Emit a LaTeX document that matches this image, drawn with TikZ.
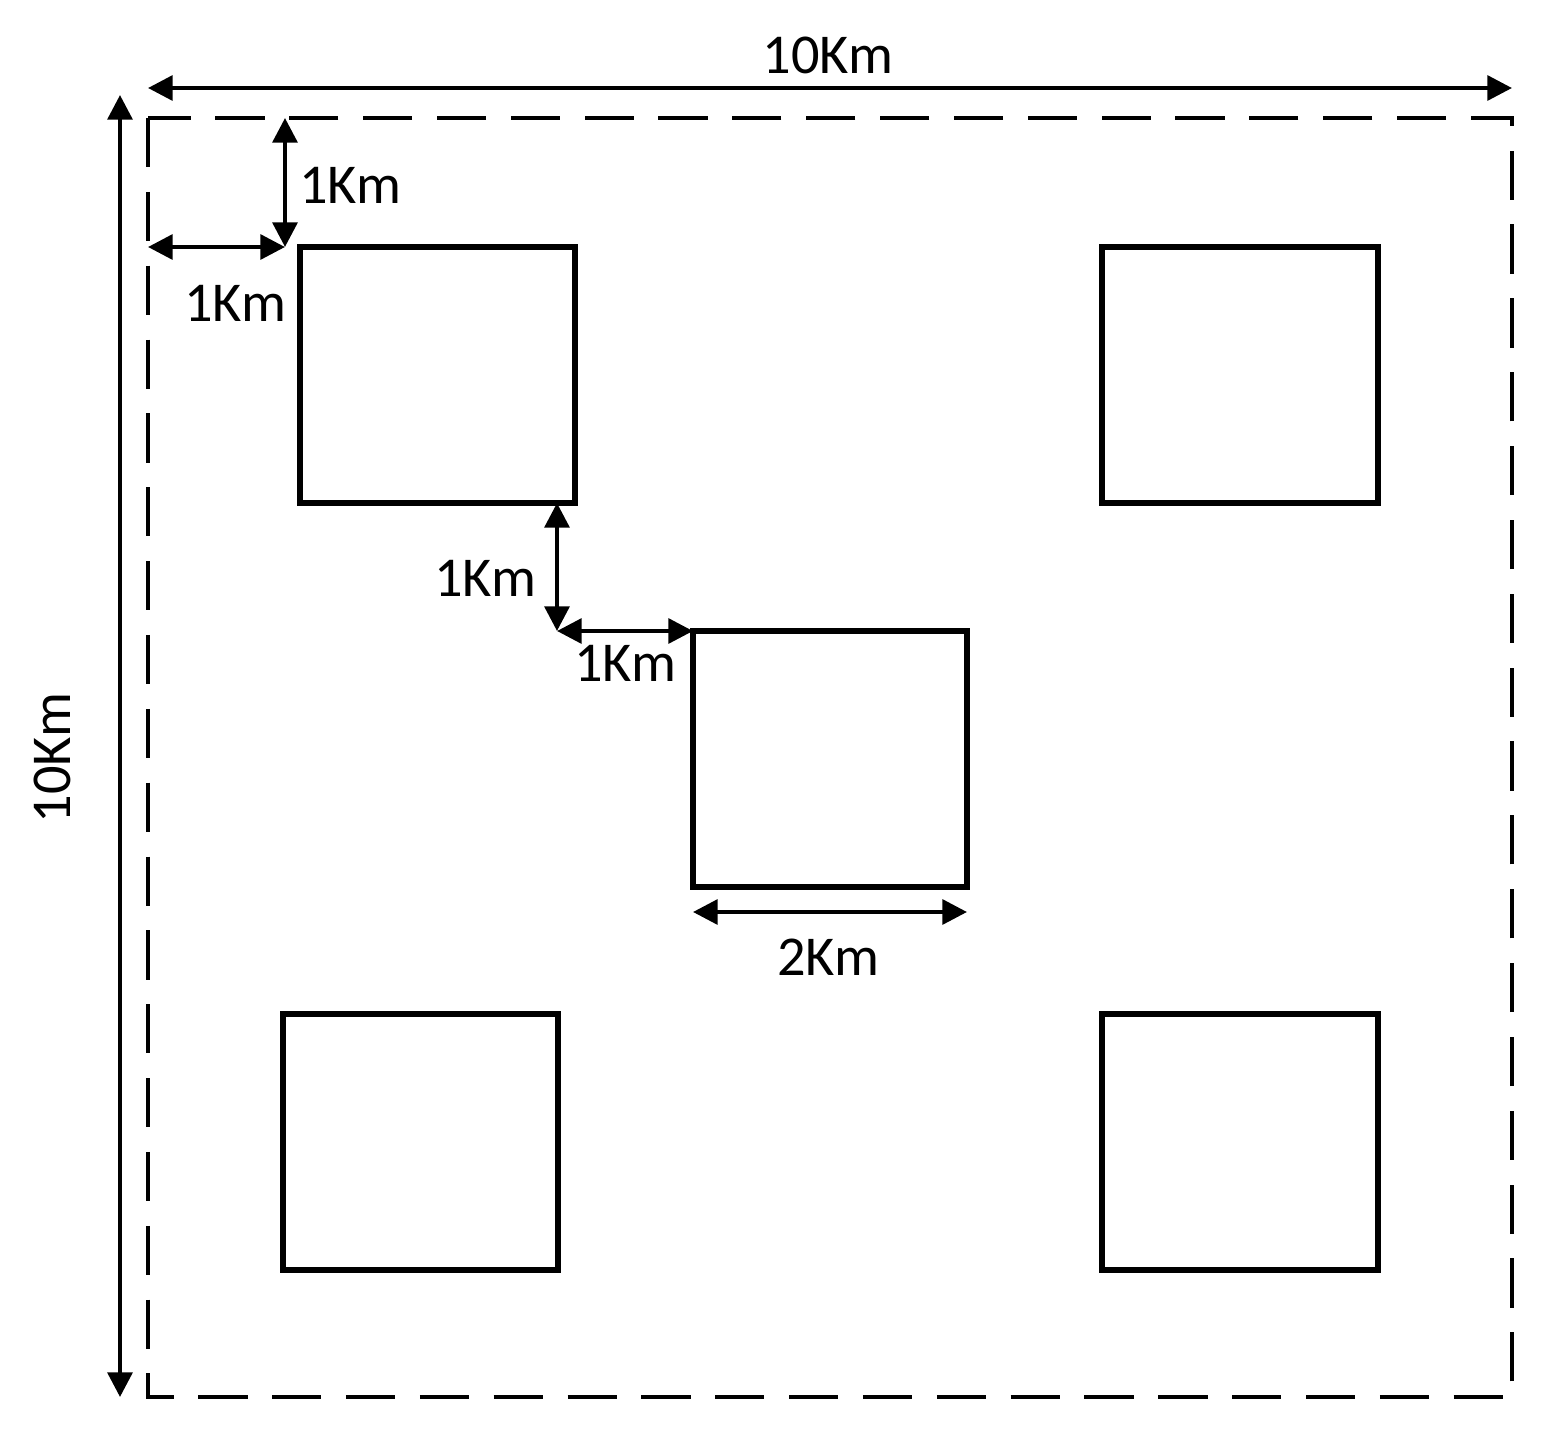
\documentclass[tikz,border=0pt]{standalone}
\usepackage{fontspec}
\setmainfont{Carlito}
\usetikzlibrary{arrows.meta}
\begin{document}
\begin{tikzpicture}[x=0.01cm,y=-0.01cm,
  blk/.style={draw,line width=1.5pt},
  dim/.style={line width=1.2pt,{Triangle[length=7pt,width=7pt]}-{Triangle[length=7pt,width=7pt]}},
  lbl/.style={font=\fontsize{16}{18}\selectfont,inner sep=0pt}]
\useasboundingbox (0,0) rectangle (1563,1448);
\draw[line width=1.2pt,dash pattern=on 14pt off 7pt] (148,118) rectangle (1512,1397);
\coordinate (b1a) at (300,247); \coordinate (b1b) at (575,503);
\coordinate (b2a) at (1102,247); \coordinate (b2b) at (1378,503);
\coordinate (b3a) at (693,631); \coordinate (b3b) at (967,887);
\coordinate (b4a) at (283,1014); \coordinate (b4b) at (558,1270);
\coordinate (b5a) at (1102,1014); \coordinate (b5b) at (1378,1270);
\foreach \i in {1,...,5} \draw[blk] (b\i a) rectangle (b\i b);
\coordinate (t1) at (148,88); \coordinate (t2) at (1512,88);
\draw[dim] (t1) -- (t2); \node[lbl] at (828,55) {10Km};
\coordinate (l1) at (120,95); \coordinate (l2) at (120,1397);
\draw[dim] (l1) -- (l2); \node[lbl,rotate=90] at (52,758) {10Km};
\coordinate (a1) at (285,118); \coordinate (a2) at (285,247); \coordinate (a3) at (148,247);
\draw[dim] (a1) -- (a2); \draw[dim] (a3) -- (a2);
\node[lbl] at (350,185) {1Km}; \node[lbl] at (235,303) {1Km};
\coordinate (m1) at (557,503); \coordinate (m2) at (557,631); \coordinate (m3) at (693,631);
\draw[dim] (m1) -- (m2); \draw[dim] (m2) -- (m3);
\node[lbl] at (485,578) {1Km}; \node[lbl] at (625,663) {1Km};
\coordinate (w1) at (693,912); \coordinate (w2) at (967,912);
\draw[dim] (w1) -- (w2); \node[lbl] at (828,957) {2Km};
\end{tikzpicture}
\end{document}
